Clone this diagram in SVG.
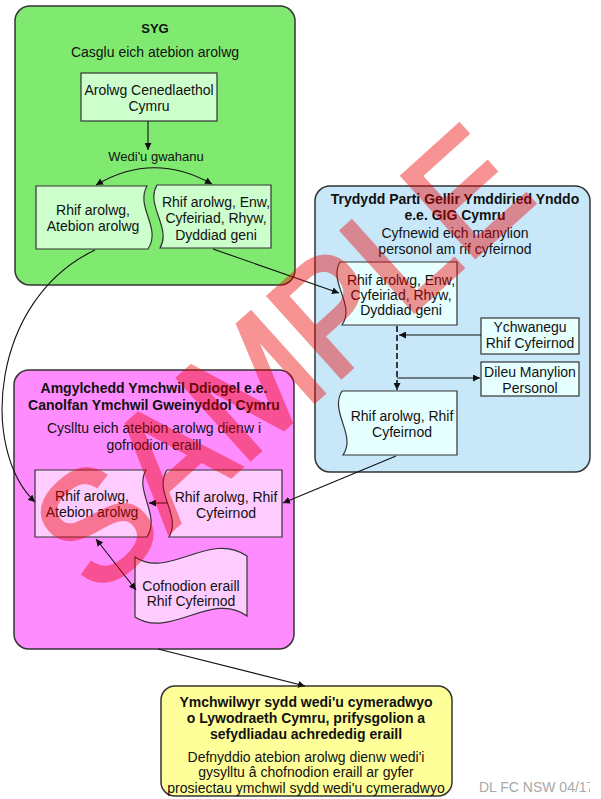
<svg xmlns="http://www.w3.org/2000/svg" width="601" height="799" viewBox="0 0 601 799">
<defs>
<marker id="arr" viewBox="0 0 10 10" refX="10" refY="5" markerWidth="7" markerHeight="7" markerUnits="userSpaceOnUse" orient="auto-start-reverse"><path d="M0,0 L10,5 L0,10 z" fill="#111"/></marker>
<clipPath id="edge"><rect x="0" y="0" width="590" height="799"/></clipPath>
<style>
text{font-family:"Liberation Sans",Arial,sans-serif;fill:#111;text-anchor:middle}
.t{font-size:14px}
.b{font-size:14px;font-weight:bold}
.s{font-size:13px}
.grp{stroke:#333;stroke-width:1.5}
.box{stroke:#333;stroke-width:1.2}
.g{fill:#ccffcc}.p{fill:#ffccff}.c{fill:#e6ffff}
.ln{fill:none;stroke:#111;stroke-width:1.1}
</style>
</defs>
<rect x="0" y="0" width="601" height="799" fill="#fff"/>

<g id="syg">
<rect class="grp" x="15" y="6" width="280" height="279" rx="15" fill="#80ea70"/>
<text class="b" x="155" y="33" style="font-size:13px">SYG</text>
<text class="t" x="155" y="57">Casglu eich atebion arolwg</text>
</g>
<g id="arolwg-cenedlaethol">
<rect class="box g" x="81" y="73" width="136" height="48"/>
<text class="t" x="149" y="95">Arolwg Cenedlaethol</text>
<text class="t" x="149" y="111">Cymru</text>
</g>
<g id="syg-atebion">
<path class="box g" d="M36,186 H147 C135,207 162,228 148,249 H36 Z"/>
<text class="t" x="93" y="215">Rhif arolwg,</text>
<text class="t" x="93" y="231">Atebion arolwg</text>
</g>
<g id="syg-manylion">
<path class="box g" d="M157,185 H271 V248 H160 C172,228 145,205 157,185 Z"/>
<text class="t" x="216" y="207">Rhif arolwg, Enw,</text>
<text class="t" x="216" y="223">Cyfeiriad, Rhyw,</text>
<text class="t" x="216" y="240">Dyddiad geni</text>
</g>

<g id="trydydd-parti">
<rect class="grp" x="315" y="186" width="275" height="286" rx="15" fill="#c8e8fa"/>
<text class="b" x="455" y="204">Trydydd Parti Gellir Ymddiried Ynddo</text>
<text class="b" x="455" y="220">e.e. GIG Cymru</text>
<text class="t" x="455" y="238">Cyfnewid eich manylion</text>
<text class="t" x="455" y="254">personol am rif cyfeirnod</text>
</g>
<g id="tp-manylion">
<path class="box c" d="M340,262 H457 V325 H342 C356,305 328,282 340,262 Z"/>
<text class="t" x="401" y="285">Rhif arolwg, Enw,</text>
<text class="t" x="401" y="300">Cyfeiriad, Rhyw,</text>
<text class="t" x="401" y="315">Dyddiad geni</text>
</g>
<g id="ychwanegu">
<rect class="box c" x="481" y="318" width="98" height="36"/>
<text class="t" x="530" y="332">Ychwanegu</text>
<text class="t" x="530" y="348">Rhif Cyfeirnod</text>
</g>
<g id="dileu">
<rect class="box c" x="481" y="362" width="98" height="34"/>
<text class="t" x="530" y="377">Dileu Manylion</text>
<text class="t" x="530" y="393">Personol</text>
</g>
<g id="tp-cyfeirnod">
<path class="box c" d="M342,391 H457 V455 H343 C357,435 329,412 342,391 Z"/>
<text class="t" x="402" y="421">Rhif arolwg, Rhif</text>
<text class="t" x="402" y="437">Cyfeirnod</text>
</g>

<g id="amgylchedd">
<rect class="grp" x="14" y="370" width="280" height="279" rx="15" fill="#ff8cff"/>
<text class="b" x="154" y="393">Amgylchedd Ymchwil Ddiogel e.e.</text>
<text class="b" x="154" y="410">Canolfan Ymchwil Gweinyddol Cymru</text>
<text class="t" x="154" y="433">Cyslltu eich atebion arolwg dienw i</text>
<text class="t" x="154" y="450">gofnodion eraill</text>
</g>
<g id="ay-atebion">
<path class="box p" d="M35,470 H146 C134,491 161,515 147,537 H35 Z"/>
<text class="t" x="92" y="501">Rhif arolwg,</text>
<text class="t" x="92" y="517">Atebion arolwg</text>
</g>
<g id="ay-cyfeirnod">
<path class="box p" d="M167,470 H282 V537 H169 C182,515 153,492 167,470 Z"/>
<text class="t" x="226" y="502">Rhif arolwg, Rhif</text>
<text class="t" x="226" y="518">Cyfeirnod</text>
</g>
<g id="cofnodion">
<path class="box p" d="M135,557 C168,580 210,530 247,556 V616 C212,590 170,640 135,617 Z"/>
<text class="t" x="191" y="591">Cofnodion eraill</text>
<text class="t" x="191" y="606">Rhif Cyfeirnod</text>
</g>

<g id="ymchwilwyr">
<rect class="grp" x="161" y="686" width="291" height="110" rx="14" fill="#ffff99"/>
<text class="b" x="306" y="707">Ymchwilwyr sydd wedi'u cymeradwyo</text>
<text class="b" x="306" y="723">o Lywodraeth Cymru, prifysgolion a</text>
<text class="b" x="306" y="739">sefydliadau achrededig eraill</text>
<text class="t" x="306" y="762">Defnyddio atebion arolwg dienw wedi'i</text>
<text class="t" x="306" y="777">gysylltu â chofnodion eraill ar gyfer</text>
<text class="t" x="306" y="793">prosiectau ymchwil sydd wedi'u cymeradwyo</text>
</g>

<g id="connectors">
<path class="ln" d="M148,121 V150" marker-end="url(#arr)"/>
<text class="s" x="156" y="161">Wedi'u gwahanu</text>
<path class="ln" d="M96,185 Q153,151 212,184" marker-start="url(#arr)" marker-end="url(#arr)"/>
<path class="ln" d="M213,249 L339,293" marker-end="url(#arr)"/>
<path class="ln" d="M95,250 C-10,300 -20,450 35,502" marker-end="url(#arr)"/>
<path class="ln" d="M397,326 V390" stroke-dasharray="6,3" style="stroke-width:1.6" marker-end="url(#arr)"/>
<path class="ln" d="M481,335 H399" marker-end="url(#arr)"/>
<path class="ln" d="M397,378 H480" marker-end="url(#arr)"/>
<path class="ln" d="M396,456 L283,503" marker-end="url(#arr)"/>
<path class="ln" d="M167,503 H149" marker-end="url(#arr)"/>
<path class="ln" d="M96,539 L136,590" marker-start="url(#arr)" marker-end="url(#arr)"/>
<path class="ln" d="M158,649 L305,686" marker-end="url(#arr)"/>
</g>

<text x="479" y="792" clip-path="url(#edge)" style="font-size:14px;fill:#a8a8a8;text-anchor:start">DL FC NSW 04/17</text>

<g id="watermark" opacity="0.42" transform="translate(280,357) rotate(-42) scale(0.93,1)">
<text x="0" y="56" style="font-size:158px;fill:#ee0000;stroke:#ee0000;stroke-width:4;stroke-linejoin:miter">SAMPLE</text>
</g>
</svg>
